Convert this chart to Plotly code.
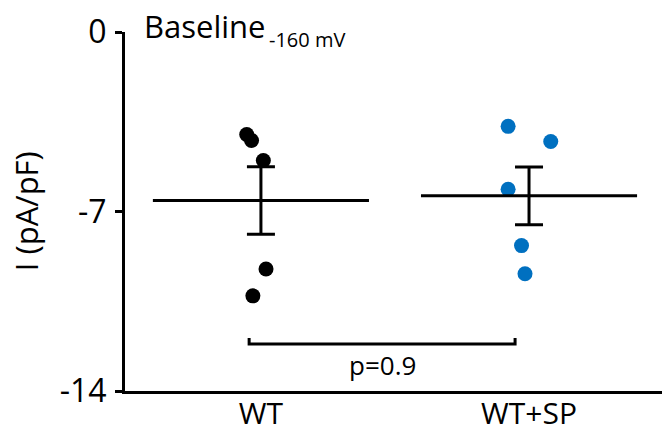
import plotly.graph_objects as go

# ---- data ----
categories = ["WT", "WT+SP"]
cat_pos = [0, 1]
wt_values = [-4.00, -4.23, -5.01, -9.24, -10.29]
wt_jitter = [-0.053, -0.035, 0.009, 0.019, -0.030]
sp_values = [-3.68, -4.27, -6.13, -8.33, -9.43]
sp_jitter = [-0.078, 0.081, -0.078, -0.028, -0.015]
means = [-6.57, -6.39]
sems = [1.32, 1.13]
y_ticks = [0, -7, -14]
p_text = "p=0.9"
title_main = "Baseline"
title_sub = "-160 mV"

FONT = "Open Sans"
BLACK = "#000000"
BLUE = "#0070C0"

fig = go.Figure()

groups = [(wt_values, wt_jitter, BLACK), (sp_values, sp_jitter, BLUE)]
for pos, (vals, jit, col) in zip(cat_pos, groups):
    fig.add_trace(go.Scatter(
        x=[pos + j for j in jit], y=vals, mode="markers",
        marker=dict(size=15, color=col, line=dict(width=0)),
        showlegend=False, hoverinfo="y"))

half = 0.403
for pos, m, s in zip(cat_pos, means, sems):
    fig.add_trace(go.Scatter(
        x=[pos - half, pos + half], y=[m, m], mode="lines",
        line=dict(color=BLACK, width=3), showlegend=False, hoverinfo="skip"))
    fig.add_trace(go.Scatter(
        x=[pos], y=[m], mode="markers",
        marker=dict(size=1, color="rgba(0,0,0,0)"),
        error_y=dict(type="data", array=[s], visible=True,
                     color=BLACK, thickness=3, width=14),
        showlegend=False, hoverinfo="skip"))

# significance bracket
bx0, bx1 = cat_pos[0] - 0.044, cat_pos[1] - 0.052
by, byt = -12.17, -11.93
fig.add_trace(go.Scatter(
    x=[bx0, bx0, bx1, bx1], y=[byt, by, by, byt], mode="lines",
    line=dict(color=BLACK, width=3), showlegend=False, hoverinfo="skip"))

fig.add_annotation(x=(bx0 + bx1) / 2, y=-12.99, text=p_text, showarrow=False,
                   font=dict(family=FONT, size=26, color=BLACK),
                   xanchor="center", yanchor="middle")

fig.add_annotation(xref="paper", yref="paper", x=0.031, y=1.0167,
                   text=title_main, showarrow=False,
                   font=dict(family=FONT, size=31, color=BLACK),
                   xanchor="left", yanchor="middle")
fig.add_annotation(xref="paper", yref="paper", x=0.264, y=0.98,
                   text=title_sub, showarrow=False,
                   font=dict(family=FONT, size=20, color=BLACK),
                   xanchor="left", yanchor="middle")

fig.update_layout(
    width=662, height=434,
    margin=dict(l=125, r=0, t=32, b=43),
    paper_bgcolor="white", plot_bgcolor="white",
    font=dict(family=FONT, color=BLACK),
    xaxis=dict(range=[-0.507, 1.496], tickvals=cat_pos, ticktext=categories,
               showline=True, linecolor=BLACK, linewidth=3, ticks="",
               showgrid=False, zeroline=False, automargin=False,
               ticklabelstandoff=-6,
               tickfont=dict(family=FONT, size=30, color=BLACK)),
    yaxis=dict(range=[-14, 0], tickvals=y_ticks, ticktext=[str(v) for v in y_ticks],
               showline=True, linecolor=BLACK, linewidth=3, ticks="outside",
               ticklen=7, tickwidth=2.5, tickcolor=BLACK,
               showgrid=False, zeroline=False, automargin=False,
               ticklabelstandoff=2,
               tickfont=dict(family=FONT, size=32, color=BLACK)),
)
fig.add_annotation(xref="paper", yref="paper", x=-0.185, y=0.5,
                   text="I (pA/pF)", textangle=-90, showarrow=False,
                   font=dict(family=FONT, size=31, color=BLACK),
                   xanchor="center", yanchor="middle")

fig.write_html("out.html")
